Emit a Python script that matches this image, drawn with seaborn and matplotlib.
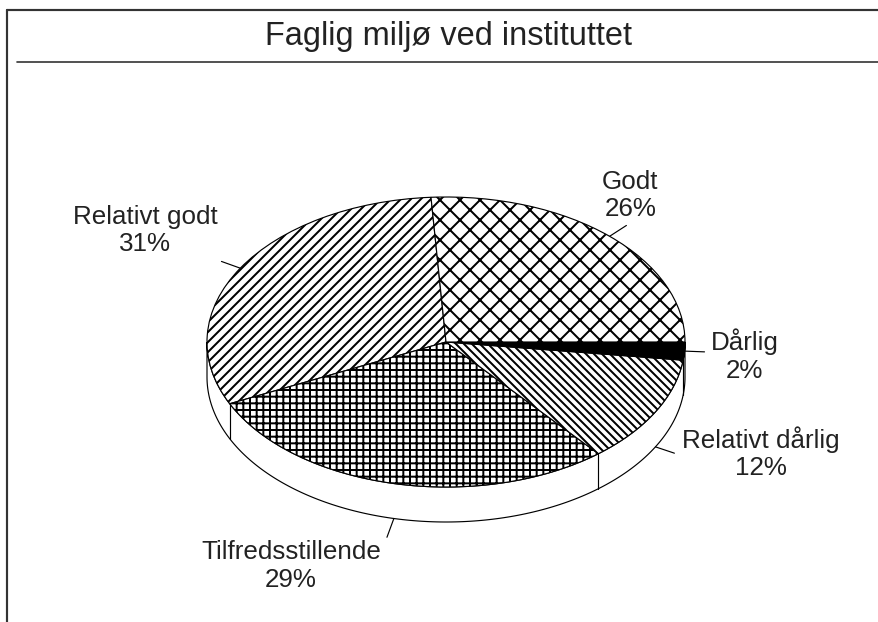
import numpy as np
import matplotlib.pyplot as plt
from matplotlib.lines import Line2D
from matplotlib.patches import Polygon
import seaborn as sns

# data, counter-clockwise from the top
labels = ["Relativt godt", "Tilfredsstillende", "Relativt dårlig", "Dårlig", "Godt"]
shares = [31, 29, 12, 2, 26]

# styling per slice
fills = ["white", "white", "white", "black", "white"]
hatches = ["////", "+++", "\\\\\\\\\\", "", "xx"]
# text alignment + offset (pixels) from the end of the leader line
label_align = [("right", "bottom", -4, 5), ("right", "top", -6, -3),
               ("left", "center", 8, 0), ("left", "center", 6, -4),
               ("center", "bottom", 4, 4)]

W, H, DPI = 878, 622, 120
CX, CY, RX, RY, DEPTH = 446, 342, 239, 145, 35   # pixel layout of the 3D pie
START = 93.6

sns.set_theme(style="white")
plt.rcParams["font.family"] = ["Liberation Sans", "DejaVu Sans"]
plt.rcParams["hatch.linewidth"] = 1.2

fig = plt.figure(figsize=(W / DPI, H / DPI), dpi=DPI)
ax = fig.add_axes([0, 0, 1, 1])

wedges, _ = ax.pie(shares, colors=fills, hatch=hatches, startangle=START,
                   counterclock=True,
                   wedgeprops=dict(edgecolor="black", linewidth=0.7))
for w in wedges:
    w.set_zorder(3)

ax.set_aspect("auto")
ax.set_xlim(-CX / RX, (W - CX) / RX)
ax.set_ylim(-(H - CY) / RY, CY / RY)
ax.axis("off")
d = DEPTH / RY

# side of the cylinder (front half)
t = np.radians(np.linspace(180, 360, 200))
top = np.column_stack([np.cos(t), np.sin(t)])
bot = np.column_stack([np.cos(t[::-1]), np.sin(t[::-1]) - d])
ax.add_patch(Polygon(np.vstack([top, bot]), closed=True, facecolor="white",
                     edgecolor="black", linewidth=0.7, zorder=1))

# slice edges on the side + leader lines and labels
bounds = START + 3.6 * np.cumsum([0] + shares)
for i, lab in enumerate(labels):
    a0, a1 = bounds[i], bounds[i + 1]
    ar = np.radians(a0 % 360)
    if np.sin(ar) < 0:
        ax.plot([np.cos(ar)] * 2, [np.sin(ar), np.sin(ar) - d],
                color="black", lw=0.7, zorder=2)
    mid = np.radians((a0 + a1) / 2)
    x0, y0 = np.cos(mid), np.sin(mid)
    if y0 < -0.2:
        y0 -= d
    v = np.array([RX * np.cos(mid), RY * np.sin(mid)])
    v = v / np.hypot(*v) * 20
    x1, y1 = x0 + v[0] / RX, y0 + v[1] / RY
    ax.plot([x0, x1], [y0, y1], color="black", lw=0.7, zorder=2)
    ha, va, ox, oy = label_align[i]
    ax.annotate(f"{lab}\n{shares[i]}%", xy=(x1, y1), xytext=(ox, oy),
                textcoords="offset pixels", ha=ha, va=va,
                multialignment="center", fontsize=15.6, color="#222222")

# frame and title
def fline(x0, y0, x1, y1, lw):
    fig.add_artist(Line2D([x0 / W, x1 / W], [1 - y0 / H, 1 - y1 / H],
                          color="#333333", lw=lw, transform=fig.transFigure))

fline(7, 10, W, 10, 1.3)
fline(7, 10, 7, H, 1.3)
fline(17, 62, W, 62, 1.0)
fig.text(448 / W, 1 - 37 / H, "Faglig miljø ved instituttet", ha="center",
         va="center", fontsize=19.5, color="#222222")

fig.savefig("out.png", dpi=DPI)
